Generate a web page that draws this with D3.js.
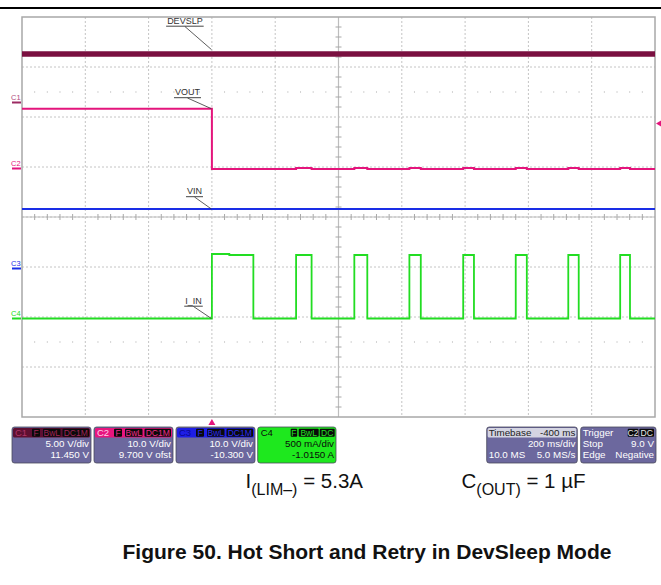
<!DOCTYPE html>
<html><head><meta charset="utf-8">
<script src="https://cdn.jsdelivr.net/npm/d3@7"></script>
<style>body{margin:0;background:#fff}svg{display:block}</style>
</head><body>
<svg id="c" width="661" height="585"></svg>
<script>
// ---------------- data ----------------
const timeDomainMs = [-600, 1400];            // 200 ms/div, 10 div, trigger at 0
const devslpT = [-600, 1400];
const devslpV = [4.85, 4.85];
const voutT = [-600, 0, 266, 315, 450, 491, 624, 660, 794, 828, 960, 995, 1126, 1159, 1290, 1321, 1400];
const voutV = [11.96, -0.1, 0.12, -0.1, 0.12, -0.1, 0.12, -0.1, 0.12, -0.1, 0.12, -0.1, 0.12, -0.1, 0.12, -0.1, -0.1];
const vinT = [-600, 1400];
const vinV = [11.9, 11.9];
const iinT = [-600, 0, 55, 131, 266, 315, 450, 491, 624, 660, 794, 828, 960, 995, 1126, 1159, 1290, 1321, 1400];
const iinA = [0, 0.645, 0.635, 0, 0.635, 0, 0.635, 0, 0.635, 0, 0.635, 0, 0.635, 0, 0.635, 0, 0.635, 0, 0];
const chNames = ["C1", "C2", "C3", "C4"];
const chScale = [5, 10, 10, 0.5];             // units per div
const chOffset = [11.45, 9.7, -10.3, -1.015]; // offset
const chColors = ["#7a1040", "#e4157c", "#1a2ee6", "#22dd22"];
const traceLabels = ["DEVSLP", "VOUT", "VIN", "I_IN"];
const infoC1 = ["5.00 V/div", "11.450 V"];
const infoC2 = ["10.0 V/div", "9.700 V ofst"];
const infoC3 = ["10.0 V/div", "-10.300 V"];
const infoC4 = ["500 mA/div", "-1.0150 A"];
const timebaseInfo = ["Timebase", "-400 ms", "200 ms/div", "10.0 MS", "5.0 MS/s"];
const triggerInfo = ["Trigger", "Stop", "9.0 V", "Edge", "Negative"];
const triggerLevelV = 9.0;
const noteLeft = ["I", "(LIM–)", " = 5.3A"];
const noteRight = ["C", "(OUT)", " = 1 µF"];
const title = "Figure 50. Hot Short and Retry in DevSleep Mode";

// ---------------- drawing ----------------
const svg = d3.select("#c");
const FONT = "Arial, 'Liberation Sans', sans-serif";
const L = 22, R = 655, T = 17, B = 417;
const x = d3.scaleLinear().domain(timeDomainMs).range([L, R]);
const yDiv = d3.scaleLinear().domain([-4, 4]).range([B, T]);
const ych = (i, v) => yDiv((v + chOffset[i]) / chScale[i]);

// top rule
svg.append("line").attr("x1", 0).attr("x2", 661).attr("y1", 8).attr("y2", 8)
  .attr("stroke", "#000").attr("stroke-width", 2);

// grid
const g = svg.append("g");
const majorT = d3.range(timeDomainMs[0], timeDomainMs[1] + 1, 200);
const majorD = d3.range(-4, 5, 1);
g.selectAll(".vg").data(majorT.slice(1, -1)).join("line")
  .attr("x1", d => x(d)).attr("x2", d => x(d)).attr("y1", T).attr("y2", B)
  .attr("stroke", "#c4c4c4").attr("stroke-width", 1).attr("stroke-dasharray", "2,2");
g.selectAll(".hg").data(majorD.slice(1, -1)).join("line")
  .attr("x1", L).attr("x2", R).attr("y1", d => yDiv(d)).attr("y2", d => yDiv(d))
  .attr("stroke", "#c4c4c4").attr("stroke-width", 1).attr("stroke-dasharray", "2,2");
// center axes
const tc = (timeDomainMs[0] + timeDomainMs[1]) / 2;
g.append("line").attr("x1", L).attr("x2", R).attr("y1", yDiv(0)).attr("y2", yDiv(0))
  .attr("stroke", "#bdbdbd").attr("stroke-width", 1.2);
g.append("line").attr("x1", x(tc)).attr("x2", x(tc)).attr("y1", T).attr("y2", B)
  .attr("stroke", "#bdbdbd").attr("stroke-width", 1.2);
const minorT = d3.range(timeDomainMs[0], timeDomainMs[1] + 1, 40).filter(t => (t - timeDomainMs[0]) % 200 !== 0);
g.selectAll(".mt").data(minorT).join("line")
  .attr("x1", d => x(d)).attr("x2", d => x(d)).attr("y1", yDiv(0) - 3).attr("y2", yDiv(0) + 3)
  .attr("stroke", "#a8a8a8").attr("stroke-width", 1);
const minorD = d3.range(-4, 4.01, 0.2).filter(d => Math.abs(d - Math.round(d)) > 0.01);
g.selectAll(".md").data(minorD).join("line")
  .attr("x1", x(tc) - 3).attr("x2", x(tc) + 3).attr("y1", d => yDiv(d)).attr("y2", d => yDiv(d))
  .attr("stroke", "#a8a8a8").attr("stroke-width", 1);
// dotted rows at +/-2.5 div
[2.5, -2.5].forEach(dv => {
  g.selectAll(null).data(minorT).join("rect")
    .attr("x", d => x(d) - 0.5).attr("y", yDiv(dv) - 0.5).attr("width", 1).attr("height", 1)
    .attr("fill", "#a8a8a8");
});
// frame
g.append("rect").attr("x", L).attr("y", T).attr("width", R - L).attr("height", B - T)
  .attr("fill", "none").attr("stroke", "#a8a8a8").attr("stroke-width", 1.5);

// traces
function trace(i, ts, vs, w, step) {
  const pts = ts.map((t, k) => [t, vs[k]]);
  const line = d3.line().x(d => x(d[0])).y(d => ych(i, d[1]));
  if (step) line.curve(d3.curveStepAfter);
  svg.append("path").attr("d", line(pts)).attr("fill", "none")
    .attr("stroke", chColors[i]).attr("stroke-width", w);
}
trace(0, devslpT, devslpV, 5.5, false);
trace(1, voutT, voutV, 2, true);
trace(2, vinT, vinV, 2, false);
trace(3, iinT, iinA, 1.8, true);

// channel ground markers
chNames.forEach((n, i) => {
  const yy = ych(i, 0);
  const col = i === 0 ? "#9c2a62" : chColors[i];
  svg.append("line").attr("x1", 12).attr("x2", 21).attr("y1", yy).attr("y2", yy)
    .attr("stroke", col).attr("stroke-width", 2);
  svg.append("text").attr("x", 11).attr("y", yy - 3).text(n)
    .attr("font-family", FONT).attr("font-size", 7.5).attr("fill", i === 0 ? "#b04a80" : col);
});
// trigger level arrow (right) and trigger position (bottom)
{
  const ty = ych(1, triggerLevelV);
  svg.append("path").attr("d", `M${R + 1},${ty} l6,-3.5 v7 z`).attr("fill", chColors[1]);
  const tx = x(0);
  svg.append("path").attr("d", `M${tx},${B + 2} l-3.5,6 h7 z`).attr("fill", chColors[1]);
}

// trace labels with leaders
const labelOffsets = [[-27, -26], [-24.4, -13.7], [-17.4, -15], [-18.4, -15]];
const labelAnchorsV = [devslpV[0] + 0.45, voutV[0], vinV[0], iinA[0]];
traceLabels.forEach((lab, i) => {
  const ax = x(0), ay = ych(i, labelAnchorsV[i]);
  const cx = ax + labelOffsets[i][0], by = ay + labelOffsets[i][1];
  const t = svg.append("text").attr("x", cx).attr("y", by).attr("text-anchor", "middle")
    .attr("font-family", FONT).attr("font-size", 9).attr("fill", "#333").text(lab);
  const w = t.node().getComputedTextLength();
  svg.append("line").attr("x1", cx - w / 2 - 1).attr("x2", cx + w / 2 + 1)
    .attr("y1", by + 2.7).attr("y2", by + 2.7).attr("stroke", "#444").attr("stroke-width", 1);
  svg.append("line").attr("x1", cx).attr("y1", by + 3).attr("x2", ax - 0.5).attr("y2", ay)
    .attr("stroke", "#333").attr("stroke-width", 0.8);
});

// info boxes
const BOXY = 427, BOXH = 36, BODY = "#6c689e", FS = 9.8;
function chBox(x0, w, i, info, opts) {
  const gb = svg.append("g");
  gb.append("rect").attr("x", x0).attr("y", BOXY).attr("width", w).attr("height", BOXH)
    .attr("rx", 2.5).attr("fill", opts.body).attr("stroke", "#4a4a5a").attr("stroke-width", 0.8);
  gb.append("rect").attr("x", x0 + 1).attr("y", BOXY + 1).attr("width", w - 2).attr("height", 9.5)
    .attr("rx", 1.5).attr("fill", opts.head);
  gb.append("text").attr("x", x0 + 3).attr("y", BOXY + 9).text(chNames[i])
    .attr("font-family", FONT).attr("font-size", 9.5).attr("fill", opts.headText);
  opts.badges.forEach(b => {
    gb.append("rect").attr("x", x0 + b[1]).attr("y", BOXY + 1.8).attr("width", b[2] - b[1]).attr("height", 8)
      .attr("rx", 1).attr("fill", "#0a0a0a");
    gb.append("text").attr("x", x0 + (b[1] + b[2]) / 2).attr("y", BOXY + 8.8).attr("text-anchor", "middle")
      .text(b[0]).attr("font-family", FONT).attr("font-size", 8.5).attr("fill", opts.badgeText);
  });
  gb.append("text").attr("x", x0 + w - 2).attr("y", 446.5).attr("text-anchor", "end").text(info[0])
    .attr("font-family", FONT).attr("font-size", FS).attr("fill", opts.text);
  gb.append("text").attr("x", x0 + w - 2).attr("y", 458.3).attr("text-anchor", "end").text(info[1])
    .attr("font-family", FONT).attr("font-size", FS).attr("fill", opts.text);
}
const badges = [["F", 20, 28], ["BwL", 31, 48.5], ["DC1M", 50.5, 77]];
chBox(12, 79, 0, infoC1, {body: BODY, head: "#5e0f32", headText: "#b03468", badgeText: "#a02458", badges, text: "#fff"});
chBox(94, 79, 1, infoC2, {body: BODY, head: "#e8157e", headText: "#ffd0e8", badgeText: "#f02a8a", badges, text: "#fff"});
chBox(176, 79, 2, infoC3, {body: BODY, head: "#1e1ee6", headText: "#0a0a90", badgeText: "#2a2af0", badges, text: "#fff"});
chBox(257.7, 78.3, 3, infoC4, {body: "#1ee81e", head: "#1ee81e", headText: "#0a0a0a", badgeText: "#22e022",
  badges: [["F", 33, 39.5], ["BwL", 41, 61], ["DC", 62, 77]], text: "#0a0a0a"});

// timebase box
{
  const x0 = 486.7, w = 90.6;
  svg.append("rect").attr("x", x0).attr("y", BOXY).attr("width", w).attr("height", BOXH)
    .attr("rx", 2.5).attr("fill", BODY).attr("stroke", "#4a4a5a").attr("stroke-width", 0.8);
  svg.append("rect").attr("x", x0 + 1).attr("y", BOXY + 1).attr("width", w - 2).attr("height", 9.5)
    .attr("rx", 1.5).attr("fill", "#d4d4e2");
  const tx = (xx, yy, s, anchor, col) => svg.append("text").attr("x", xx).attr("y", yy).attr("text-anchor", anchor)
    .text(s).attr("font-family", FONT).attr("font-size", FS).attr("fill", col);
  tx(x0 + 2, BOXY + 9, timebaseInfo[0], "start", "#222");
  tx(x0 + w - 2, BOXY + 9, timebaseInfo[1], "end", "#222");
  tx(x0 + w - 2, 446.5, timebaseInfo[2], "end", "#fff");
  tx(x0 + 2, 458.3, timebaseInfo[3], "start", "#fff");
  tx(x0 + w - 2, 458.3, timebaseInfo[4], "end", "#fff");
}
// trigger box
{
  const x0 = 580.7, w = 75.3;
  svg.append("rect").attr("x", x0).attr("y", BOXY).attr("width", w).attr("height", BOXH)
    .attr("rx", 2.5).attr("fill", BODY).attr("stroke", "#4a4a5a").attr("stroke-width", 0.8);
  const tx = (xx, yy, s, anchor, col, fs) => svg.append("text").attr("x", xx).attr("y", yy).attr("text-anchor", anchor)
    .text(s).attr("font-family", FONT).attr("font-size", fs || FS).attr("fill", col);
  tx(x0 + 2, BOXY + 9, triggerInfo[0], "start", "#fff");
  [["C2", 47, 57.6], ["DC", 58.6, 73.3]].forEach(b => {
    svg.append("rect").attr("x", x0 + b[1]).attr("y", BOXY + 1.8).attr("width", b[2] - b[1]).attr("height", 8)
      .attr("rx", 1).attr("fill", "#0a0a0a");
    tx(x0 + (b[1] + b[2]) / 2, BOXY + 8.8, b[0], "middle", "#e8e8e8", 8.5);
  });
  tx(x0 + 2, 446.5, triggerInfo[1], "start", "#fff");
  tx(x0 + w - 2, 446.5, triggerInfo[2], "end", "#fff");
  tx(x0 + 2, 458.3, triggerInfo[3], "start", "#fff");
  tx(x0 + w - 2, 458.3, triggerInfo[4], "end", "#fff");
}

// notes
function note(x0, parts) {
  const t = svg.append("text").attr("x", x0).attr("y", 488).attr("font-family", FONT)
    .attr("font-size", 20.5).attr("fill", "#111");
  t.append("tspan").text(parts[0]);
  t.append("tspan").attr("font-size", 16).attr("dy", 6.5).text(parts[1]);
  t.append("tspan").attr("dy", -6.5).text(parts[2]);
}
note(245.5, noteLeft);
note(461.5, noteRight);

svg.append("text").attr("x", 367).attr("y", 559).attr("text-anchor", "middle")
  .attr("font-family", FONT).attr("font-weight", "bold").attr("font-size", 21).attr("fill", "#111")
  .text(title);
</script>
</body></html>
